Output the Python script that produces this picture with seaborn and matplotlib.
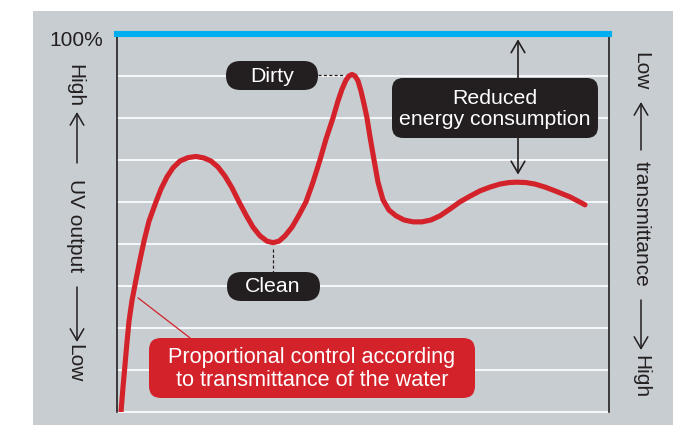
import numpy as np
import pandas as pd
import matplotlib
matplotlib.use("Agg")
import matplotlib.pyplot as plt
import seaborn as sns
from matplotlib.patches import FancyBboxPatch, Rectangle, FancyArrowPatch
from matplotlib.transforms import blended_transform_factory

# ---------------- data ----------------
# x: time (arbitrary units, 0..492), y: UV output in % of maximum
time_units = [4, 6, 8, 10, 12, 15, 19, 23, 27, 32, 39, 44, 50, 56, 63, 71, 79,
              87, 94, 101, 108, 115, 122, 129, 136, 143, 150, 156, 162, 168,
              175, 182, 189, 196, 203, 209, 216, 221, 225, 229, 232, 235, 238,
              241, 244, 247, 250, 253, 257, 261, 266, 272, 279, 287, 296, 305,
              314, 323, 333, 343, 353, 363, 373, 383, 392, 400, 409, 418, 428,
              438, 453, 461, 468]
uv_output_pct = [0.0, 6.5, 12.5, 18.5, 24.0, 29.5, 35.0, 40.3, 45.2, 50.5,
                 55.6, 59.0, 62.2, 64.6, 66.4, 67.3, 67.6, 67.2, 66.4, 64.8,
                 62.4, 59.3, 55.6, 52.1, 48.9, 46.6, 45.2, 44.8, 45.2, 46.6,
                 48.9, 52.1, 55.6, 60.8, 66.7, 72.2, 77.8, 82.3, 85.4, 87.8,
                 88.9, 89.3, 88.9, 87.6, 84.9, 81.5, 77.8, 72.8, 66.7, 60.8,
                 56.1, 53.4, 51.9, 50.8, 50.3, 50.3, 50.8, 51.9, 53.7, 55.6,
                 57.1, 58.5, 59.5, 60.3, 60.7, 60.8, 60.7, 60.3, 59.5, 58.5,
                 56.9, 55.8, 54.8]
top_label = "100%"
left_words = ["High", "UV output", "Low"]
right_words = ["Low", "transmittance", "High"]
dirty_label = "Dirty"
clean_label = "Clean"
saving_label = "Reduced\nenergy consumption"
control_label = "Proportional control according\nto transmittance of the water"

df = pd.DataFrame({"time": time_units, "uv": uv_output_pct})

# ---------------- style ----------------
GRAY = "#c8cdd2"
RED = "#d3222a"
DARK = "#231f20"
BLUE = "#00aeef"

sns.set_theme(style="white")
plt.rcParams["font.family"] = ["Liberation Sans", "DejaVu Sans"]

fig = plt.figure(figsize=(6.82, 4.25), dpi=100)
fig.patch.set_facecolor("white")
T = fig.dpi_scale_trans


def P(px, py):
    return (px / 100.0, (425 - py) / 100.0)


fig.add_artist(Rectangle(P(33, 425), 6.40, 4.14, transform=T,
                         facecolor=GRAY, edgecolor="none", zorder=-5))

ax = fig.add_axes([117 / 682, 13 / 425, 492 / 682, 378 / 425])
ax.set_facecolor("none")
ax.set_xlim(0, 492)
ax.set_ylim(0, 100)

for g in np.linspace(0, 100, 10)[:-1]:
    ax.axhline(g, color="white", lw=1.2, zorder=1, clip_on=False)

sns.lineplot(data=df, x="time", y="uv", sort=False, estimator=None,
             color=RED, lw=3.7, ax=ax, zorder=4,
             solid_joinstyle="round", solid_capstyle="round")

ax.set_xticks([])
ax.set_yticks([])
ax.set_xlabel("")
ax.set_ylabel("")
for side in ["left", "right"]:
    ax.spines[side].set_color(DARK)
    ax.spines[side].set_linewidth(1.2)
    ax.spines[side].set_visible(True)
ax.spines["bottom"].set_visible(False)
ax.spines["top"].set_color(BLUE)
ax.spines["top"].set_linewidth(4.4)
ax.spines["top"].set_zorder(6)

trans = blended_transform_factory(ax.transAxes, ax.transData)
ax.text(-0.028, 98.4, top_label, transform=trans, ha="right", va="center",
        fontsize=15, color=DARK)

# dashed pointers
ax.plot([201, 228], [89.2, 89.2], color=DARK, lw=0.9, ls=(0, (2.5, 1.8)), zorder=3)
ax.plot([156, 156], [43.2, 37.0], color=DARK, lw=0.9, ls=(0, (2.5, 1.8)), zorder=3)
# leader line of the red callout
ax.plot([21, 73], [30.2, 19.6], color=RED, lw=0.9, zorder=3)
# reduced-energy double arrow
ax.annotate("", xy=(401, 62.8), xytext=(401, 98.6),
            arrowprops=dict(arrowstyle="<->,head_length=0.6,head_width=0.35",
                            color=DARK, lw=1.2, mutation_scale=14,
                            shrinkA=0, shrinkB=0), zorder=2)


# ---------------- callout boxes ----------------
def rbox(x0, y0, x1, y1, r, color):
    fig.add_artist(FancyBboxPatch(P(x0, y1), (x1 - x0) / 100.0, (y1 - y0) / 100.0,
                                  boxstyle=f"round,pad=0,rounding_size={r / 100.0}",
                                  transform=T, facecolor=color, edgecolor="none",
                                  zorder=3))


def btext(cx, cy, s, size=15.3):
    x, y = P(cx, cy)
    fig.text(x, y, s, transform=T, ha="center", va="center", color="white",
             fontsize=size, linespacing=1.18, zorder=4)


rbox(226, 61, 318, 90, 14.5, DARK)
btext(272, 76, dirty_label)
rbox(227, 272, 320, 301, 14.5, DARK)
btext(273, 287, clean_label)
rbox(392, 78, 598, 138, 11, DARK)
btext(495, 109, saving_label)
rbox(149, 338, 475, 398, 12, RED)
btext(312, 369, control_label, size=15.6)


# ---------------- vertical axis captions ----------------
def vtext(cx, cy, s):
    x, y = P(cx, cy)
    fig.text(x, y, s, transform=T, ha="center", va="center", rotation=-90,
             fontsize=15, color=DARK, zorder=4)


def varrow(cx, y_tail, y_head):
    fig.add_artist(FancyArrowPatch(
        P(cx, y_tail), P(cx, y_head), transform=T, zorder=4,
        arrowstyle="->,head_length=0.6,head_width=0.35", color=DARK, lw=1.1,
        mutation_scale=14, shrinkA=0, shrinkB=0))


vtext(75, 86, left_words[0])
varrow(77, 163, 112)
vtext(75, 226, left_words[1])
varrow(77, 287, 342)
vtext(75, 363, left_words[2])

vtext(641, 71, right_words[0])
varrow(641, 150, 102)
vtext(641, 224, right_words[1])
varrow(641, 300, 350)
vtext(641, 377, right_words[2])

fig.savefig("out.png", dpi=100)
